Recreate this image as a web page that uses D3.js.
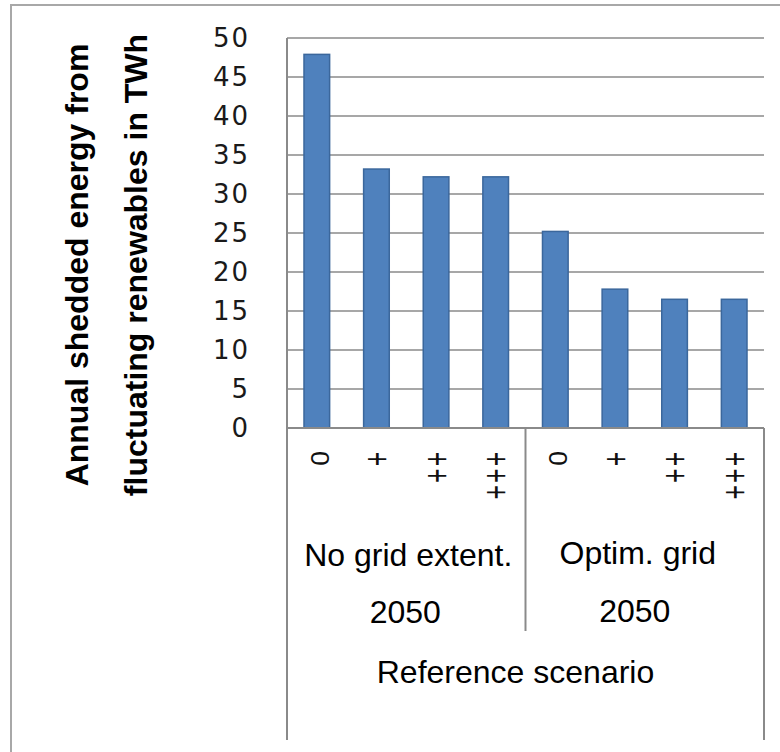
<!DOCTYPE html>
<html>
<head>
<meta charset="utf-8">
<script src="https://cdn.jsdelivr.net/npm/d3@7"></script>
<style>
  html, body { margin: 0; padding: 0; background: #fff; }
  svg { display: block; }
</style>
</head>
<body>
<svg id="chart" width="780" height="752"></svg>
<script>
// ---- data ----
const categories = ["0", "+", "++", "+++", "0", "+", "++", "+++"];
const values = [47.9, 33.2, 32.2, 32.2, 25.2, 17.8, 16.5, 16.5];
const groupLabels = ["No grid extent.", "Optim. grid"];
const groupYears = ["2050", "2050"];
const topLabel = "Reference scenario";
const yTicks = [0, 5, 10, 15, 20, 25, 30, 35, 40, 45, 50];
const yTitleLines = ["Annual shedded energy from", "fluctuating renewables in TWh"];

// ---- layout ----
const plot = { left: 287, right: 764, top: 38, bottom: 428 };
const svg = d3.select("#chart");
const idx = d3.range(categories.length);

const x = d3.scaleBand().domain(idx).range([plot.left, plot.right])
  .paddingInner(0.57).paddingOuter(0.285);
const y = d3.scaleLinear().domain([0, 50]).range([plot.bottom, plot.top]);
const step = x.step();
const groupSize = 4;

// outer frame
svg.append("path")
  .attr("d", "M11,752 L11,5 L780,5")
  .attr("fill", "none").attr("stroke", "#a8a8a8").attr("stroke-width", 2);

// gridlines
svg.append("g").selectAll("line").data(yTicks.filter(d => d > 0)).join("line")
  .attr("x1", plot.left).attr("x2", plot.right)
  .attr("y1", d => y(d)).attr("y2", d => y(d))
  .attr("stroke", "#8a8a8a").attr("stroke-width", 1.6);

// y tick labels
svg.append("g").selectAll("text").data(yTicks).join("text")
  .attr("x", 250).attr("y", d => y(d))
  .attr("text-anchor", "end").attr("dominant-baseline", "central")
  .attr("font-family", "DejaVu Sans, Verdana, sans-serif")
  .attr("font-size", 26).attr("letter-spacing", 2)
  .attr("fill", "#1a1a1a")
  .text(d => d);

// bars
svg.append("g").selectAll("rect").data(values).join("rect")
  .attr("x", (d, i) => x(i)).attr("width", x.bandwidth())
  .attr("y", d => y(d)).attr("height", d => y(0) - y(d))
  .attr("fill", "#4f81bd").attr("stroke", "#3b679c").attr("stroke-width", 1.5);

// axis lines and category dividers
const axisColor = "#8a8a8a";
svg.append("line")
  .attr("x1", plot.left).attr("x2", plot.right)
  .attr("y1", y(0)).attr("y2", y(0))
  .attr("stroke", axisColor).attr("stroke-width", 2);
svg.append("line")
  .attr("x1", plot.left).attr("x2", plot.left)
  .attr("y1", plot.top).attr("y2", 740)
  .attr("stroke", axisColor).attr("stroke-width", 2);
svg.append("line")
  .attr("x1", plot.right).attr("x2", plot.right)
  .attr("y1", y(0)).attr("y2", 740)
  .attr("stroke", axisColor).attr("stroke-width", 2);
const midX = x.range()[0] + groupSize * step;
svg.append("line")
  .attr("x1", midX).attr("x2", midX)
  .attr("y1", y(0)).attr("y2", 631)
  .attr("stroke", axisColor).attr("stroke-width", 2);

// category labels: vertical (rotated) text, reading downward
const catG = svg.append("g")
  .attr("font-family", "Liberation Sans, Arial, sans-serif").attr("fill", "#111");
categories.forEach((lab, i) => {
  const cx = x(i) + x.bandwidth() / 2;
  const isPlus = lab.startsWith("+");
  const t = isPlus
    ? `translate(${cx + 1},${451.7}) scale(1.45,1) rotate(90)`
    : `translate(${cx + 3},${451}) rotate(90)`;
  catG.append("text")
    .attr("transform", t)
    .attr("text-anchor", "start").attr("dominant-baseline", "central")
    .attr("font-size", isPlus ? 25 : 26.5)
    .attr("letter-spacing", isPlus ? 2.1 : 0)
    .text(lab);
});

// group labels
const groupCenters = groupLabels.map((g, j) =>
  x.range()[0] + (j * groupSize + groupSize / 2) * step);
const groupDx = [2, -7];
const lblG = svg.append("g")
  .attr("font-family", "Liberation Sans, Arial, sans-serif")
  .attr("font-size", 32).attr("fill", "#000").attr("text-anchor", "middle");
groupLabels.forEach((g, j) => {
  lblG.append("text").attr("x", groupCenters[j] + groupDx[j])
    .attr("y", j === 0 ? 565.5 : 564).text(g);
  lblG.append("text").attr("x", groupCenters[j] + groupDx[j] - 3)
    .attr("y", j === 0 ? 622.5 : 621.5).text(groupYears[j]);
});
lblG.append("text").attr("x", (plot.left + plot.right) / 2 - 10)
  .attr("y", 683).text(topLabel);

// y axis title
const titleG = svg.append("g")
  .attr("font-family", "Liberation Sans, Arial, sans-serif")
  .attr("font-weight", "bold").attr("font-size", 32).attr("fill", "#000")
  .attr("text-anchor", "middle");
const titleX = [88, 147];
yTitleLines.forEach((t, j) => {
  titleG.append("text")
    .attr("transform", `translate(${titleX[j]},265) rotate(-90)`)
    .text(t);
});
</script>
</body>
</html>
